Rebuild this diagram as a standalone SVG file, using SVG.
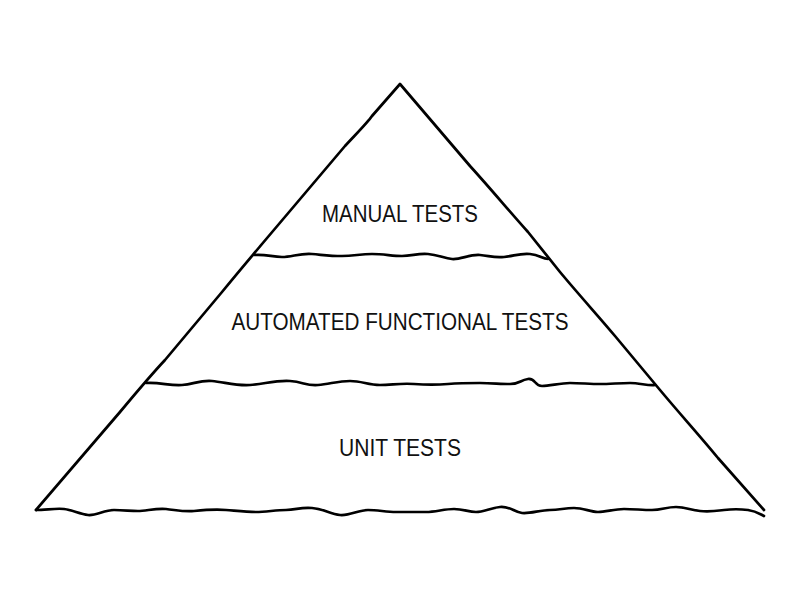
<svg xmlns="http://www.w3.org/2000/svg" width="800" height="597" viewBox="0 0 800 597">
<style>
.ln{fill:none;stroke:#000;stroke-width:2.7;stroke-linecap:round;stroke-linejoin:round}
.t{font-family:"Liberation Sans",Arial,sans-serif;font-size:23px;fill:#111;text-anchor:middle}
</style>
<rect width="800" height="597" fill="#fff"/>
<g id="connectors">
<path class="ln" d="M36,510 L120,412 C135,394 150,376 165,360 L222,292 C240,270 252,256 262,244 L345,146 C358,132 368,122 372,116 L400,84 L470,166 C490,188 510,212 528,232 L560,272 C580,296 600,318 615,336 L660,390 C680,414 700,436 718,458 L764,510"/>
</g>
<g id="node-manual">
<path class="ln" d="M254,255 C266,254 272,257 282,257 S300,253 312,254 S330,256 342,256 S360,254 372,254 S392,256 402,256 S418,253 428,254 S444,258 452,259 S470,254 480,255 S494,258 504,257 S520,253 530,254 S542,259 548,259"/>
<text class="t" x="400" y="222" textLength="156" lengthAdjust="spacingAndGlyphs">MANUAL TESTS</text>
</g>
<g id="node-functional">
<path class="ln" d="M146,383 C160,382 170,386 182,385 S200,380 212,381 S236,386 250,385 S276,380 290,381 S306,386 318,385 S338,381 350,381 S368,385 380,385 S400,383 414,384 S436,385 448,384 S468,383 480,383 S500,384 510,384 S520,380 528,379 S534,386 542,386 S560,383 570,383 S590,384 600,384 S620,383 630,383 S648,386 655,385"/>
<text class="t" x="400" y="330" textLength="337" lengthAdjust="spacingAndGlyphs">AUTOMATED FUNCTIONAL TESTS</text>
</g>
<g id="node-unit">
<path class="ln" d="M36,510 C46,510 56,508 64,509 S80,514 88,515 S104,510 114,510 S130,511 138,511 S156,508 166,509 S184,512 194,511 S214,509 226,510 S246,512 256,512 S276,510 286,510 S300,507 312,508 S330,514 340,515 S358,510 368,510 S386,512 396,512 S416,512 426,512 S444,509 454,509 S468,512 476,512 S490,508 500,507 S514,512 522,513 S540,510 550,510 S564,508 574,508 S590,512 598,512 S614,509 624,509 S642,510 652,510 S666,507 676,507 S690,510 700,511 S716,511 724,510 S740,509 748,510 S760,514 764,516"/>
<text class="t" x="400" y="456" textLength="122" lengthAdjust="spacingAndGlyphs">UNIT TESTS</text>
</g>
</svg>
